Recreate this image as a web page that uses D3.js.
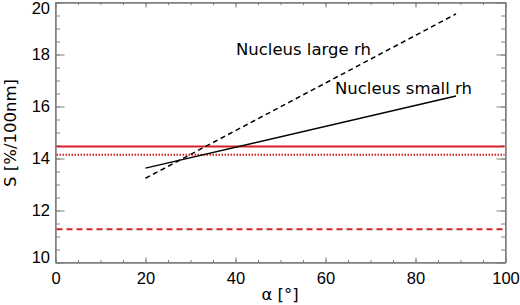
<!DOCTYPE html>
<html>
<head>
<meta charset="utf-8">
<script src="https://cdn.jsdelivr.net/npm/d3@7"></script>
<style>
  html, body { margin: 0; padding: 0; background: #fff; }
  svg { display: block; }
</style>
</head>
<body>
<svg id="chart" width="520" height="305"></svg>
<script>
// ---- data ----
const xTickLabels = [0, 20, 40, 60, 80, 100];
const xMinorTicks = d3.range(0, 101, 5);
const yTickLabels = [10, 12, 14, 16, 18, 20];
const yMinorTicks = d3.range(10, 20.01, 0.5);

const alphaSpan = [20, 89];
const smallRh = [13.63, 16.40];   // Nucleus small rh (solid black)
const largeRh = [13.24, 19.56];   // Nucleus large rh (dashed black)

const refSolid = 14.46;   // red solid
const refDotted = 14.14;  // red dotted
const refDashed = 11.28;  // red dashed

const annotations = [
  { text: "Nucleus large rh", x: 40.1, y: 17.97 },
  { text: "Nucleus small rh", x: 62.1, y: 16.5 }
];

// ---- layout ----
const svg = d3.select("#chart");
const L = 55.5, R = 505.5, T = 2.5, B = 262.5;
const x = d3.scaleLinear().domain([0, 100]).range([L, R]);
const y = d3.scaleLinear().domain([10, 20]).range([B, T]);
const axisColor = "#808080";
const red = "#d42027";

function styleAxis(g) {
  g.select(".domain").attr("stroke", axisColor);
  g.selectAll(".tick line").attr("stroke", axisColor);
  g.selectAll("text").attr("fill", "#000");
}

// minor ticks
svg.append("g").attr("transform", `translate(0,${B})`)
  .call(d3.axisBottom(x).tickValues(xMinorTicks).tickSize(-2.6).tickSizeOuter(0).tickFormat(""))
  .call(styleAxis);
svg.append("g").attr("transform", `translate(0,${T})`)
  .call(d3.axisTop(x).tickValues(xMinorTicks).tickSize(-2.6).tickSizeOuter(0).tickFormat(""))
  .call(styleAxis);
svg.append("g").attr("transform", `translate(${L},0)`)
  .call(d3.axisLeft(y).tickValues(yMinorTicks).tickSize(-4.5).tickSizeOuter(0).tickFormat(""))
  .call(styleAxis);
svg.append("g").attr("transform", `translate(${R},0)`)
  .call(d3.axisRight(y).tickValues(yMinorTicks).tickSize(-4.5).tickSizeOuter(0).tickFormat(""))
  .call(styleAxis);

// major ticks
const xb = svg.append("g").attr("transform", `translate(0,${B})`)
  .call(d3.axisBottom(x).tickValues(xTickLabels).tickSize(-5.2).tickSizeOuter(0).tickPadding(10).tickFormat(d3.format("d")))
  .call(styleAxis);
xb.selectAll("text").attr("font-family", "'Liberation Sans', Arial, sans-serif").attr("font-size", 16.5);

svg.append("g").attr("transform", `translate(0,${T})`)
  .call(d3.axisTop(x).tickValues(xTickLabels).tickSize(-5.2).tickSizeOuter(0).tickFormat(""))
  .call(styleAxis);

const yl = svg.append("g").attr("transform", `translate(${L},0)`)
  .call(d3.axisLeft(y).tickValues(yTickLabels).tickSize(-9).tickSizeOuter(0).tickPadding(5.5).tickFormat(d3.format("d")))
  .call(styleAxis);
yl.selectAll("text").attr("font-family", "'Liberation Sans', Arial, sans-serif").attr("font-size", 16.5)
  .attr("y", d => d === 10 ? -5.5 : (d === 20 ? 5.5 : 0));

svg.append("g").attr("transform", `translate(${R},0)`)
  .call(d3.axisRight(y).tickValues(yTickLabels).tickSize(-9).tickSizeOuter(0).tickFormat(""))
  .call(styleAxis);

// frame
svg.append("rect").attr("x", L).attr("y", T).attr("width", R - L).attr("height", B - T)
  .attr("fill", "none").attr("stroke", axisColor).attr("stroke-width", 1);

// red reference lines
const refs = [
  { v: refSolid, dash: null },
  { v: refDotted, dash: "1.5,1.5" },
  { v: refDashed, dash: "6,4" }
];
svg.append("g").selectAll("line").data(refs).join("line")
  .attr("x1", x(0) + 1).attr("x2", x(100) - 1)
  .attr("y1", d => y(d.v)).attr("y2", d => y(d.v))
  .attr("stroke", red).attr("stroke-width", 2)
  .attr("stroke-dasharray", d => d.dash);

// black lines
const line = d3.line().x(d => x(d[0])).y(d => y(d[1]));
svg.append("path").datum(alphaSpan.map((a, i) => [a, smallRh[i]]))
  .attr("d", line).attr("fill", "none").attr("stroke", "#000").attr("stroke-width", 1.5);
svg.append("path").datum(alphaSpan.map((a, i) => [a, largeRh[i]]))
  .attr("d", line).attr("fill", "none").attr("stroke", "#000").attr("stroke-width", 1.5)
  .attr("stroke-dasharray", "5,3.5");

// annotations
svg.append("g").selectAll("text").data(annotations).join("text")
  .attr("x", d => x(d.x)).attr("y", d => y(d.y))
  .attr("font-family", "'DejaVu Sans', sans-serif").attr("font-size", 16.5)
  .attr("fill", "#000")
  .text(d => d.text);

// axis titles
svg.append("text")
  .attr("x", 280).attr("y", 300)
  .attr("text-anchor", "middle")
  .attr("font-family", "'DejaVu Sans', sans-serif").attr("font-size", 16.5)
  .text("α [°]");

svg.append("text")
  .attr("transform", "translate(16,133) rotate(-90)")
  .attr("text-anchor", "middle")
  .attr("font-family", "'DejaVu Sans', sans-serif").attr("font-size", 16.5)
  .text("S [%/100nm]");
</script>
</body>
</html>
